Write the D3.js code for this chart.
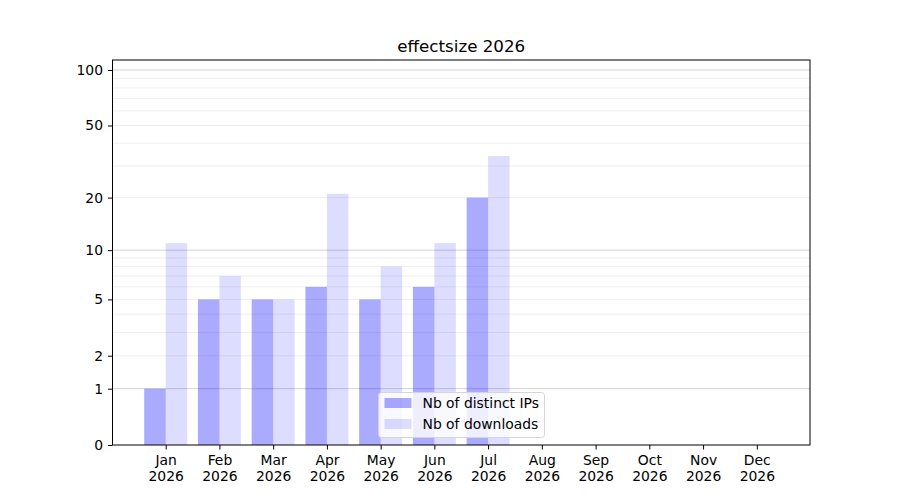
<!DOCTYPE html>
<html>
<head>
<meta charset="UTF-8">
<title>effectsize 2026</title>
<script src="https://d3js.org/d3.v7.min.js"></script>
<style>
	body { margin: 0; background: #fff; }
	svg text { font-family: "DejaVu Sans", sans-serif; fill: #000; }
</style>
</head>
<body>
	<svg id="chart"></svg>
	<script type="text/javascript">
		var months = ["Jan", "Feb", "Mar", "Apr", "May", "Jun", "Jul", "Aug", "Sep", "Oct", "Nov", "Dec"];
		var year = "2026";
		var distinctIPs = [1, 5, 5, 6, 5, 6, 20, 0, 0, 0, 0, 0];
		var downloads = [11, 7, 5, 21, 8, 11, 34, 0, 0, 0, 0, 0];
		var yTicks = [0, 1, 2, 5, 10, 20, 50, 100];
		var majorGrid = [1, 10, 100];
		var minorGrid = [2, 3, 4, 5, 6, 7, 8, 9, 20, 30, 40, 50, 60, 70, 80, 90];
		var seriesNames = ["Nb of distinct IPs", "Nb of downloads"];

		(function()
		{
			var width = 900, height = 500;
			var plotLeft = 112.5, plotRight = 810, plotTop = 60, plotBottom = 445;
			var barW = 0.4;
			var fontSize = '13.9px';

			var svg = d3.select('#chart')
				.attr('width', width)
				.attr('height', height);

			// x is month index, matplotlib style margins
			var x = d3.scaleLinear().domain([-0.99, 11.99]).range([plotLeft, plotRight]);
			// log(1+v) scale
			var y = d3.scaleSymlog().constant(1).domain([0, 113.2]).range([plotBottom, plotTop]);

			// grid
			svg.append('g').selectAll('line')
				.data(minorGrid).enter()
				.append('line')
				.attr('x1', plotLeft).attr('x2', plotRight)
				.attr('y1', function(d) { return y(d); })
				.attr('y2', function(d) { return y(d); })
				.attr('stroke', '#ebebeb').attr('stroke-width', 0.8);

			svg.append('g').selectAll('line')
				.data(majorGrid).enter()
				.append('line')
				.attr('x1', plotLeft).attr('x2', plotRight)
				.attr('y1', function(d) { return y(d); })
				.attr('y2', function(d) { return y(d); })
				.attr('stroke', '#c8c8c8').attr('stroke-width', 0.8);

			// bars
			var bars = svg.append('g');
			bars.selectAll('rect.ip')
				.data(distinctIPs).enter()
				.append('rect')
				.attr('class', 'ip')
				.attr('x', function(d, i) { return x(i - barW); })
				.attr('width', x(barW) - x(0))
				.attr('y', function(d) { return y(d); })
				.attr('height', function(d) { return plotBottom - y(d); })
				.attr('fill', '#0000ff').attr('fill-opacity', 0.333);

			bars.selectAll('rect.dl')
				.data(downloads).enter()
				.append('rect')
				.attr('class', 'dl')
				.attr('x', function(d, i) { return x(i); })
				.attr('width', x(barW) - x(0))
				.attr('y', function(d) { return y(d); })
				.attr('height', function(d) { return plotBottom - y(d); })
				.attr('fill', '#0000ff').attr('fill-opacity', 0.133);

			// frame
			svg.append('rect')
				.attr('x', plotLeft).attr('y', plotTop)
				.attr('width', plotRight - plotLeft).attr('height', plotBottom - plotTop)
				.attr('fill', 'none').attr('stroke', '#000').attr('stroke-width', 1);

			// y axis
			var yAxis = d3.axisLeft(y).tickValues(yTicks).tickFormat(d3.format('d')).tickSize(4.5).tickPadding(5);
			svg.append('g')
				.attr('transform', 'translate(' + plotLeft + ',0)')
				.call(yAxis)
				.call(function(g) { g.select('.domain').remove(); })
				.attr('font-family', null)
				.attr('font-size', null)
				.selectAll('text').style('font-size', fontSize);

			// x axis, two line labels
			var xAxis = d3.axisBottom(x).tickValues(d3.range(months.length)).tickSize(4.5).tickFormat('');
			var xg = svg.append('g')
				.attr('transform', 'translate(0,' + plotBottom + ')')
				.call(xAxis)
				.call(function(g) { g.select('.domain').remove(); })
				.attr('font-family', null);
			xg.selectAll('.tick').append('text')
				.attr('text-anchor', 'middle')
				.style('font-size', fontSize)
				.selectAll('tspan')
				.data(function(d) { return [months[d], year]; })
				.enter().append('tspan')
				.attr('x', 0)
				.attr('y', function(d, i) { return 20 + i * 15.5; })
				.text(function(d) { return d; });

			// title
			svg.append('text')
				.attr('x', (plotLeft + plotRight) / 2)
				.attr('y', 52)
				.attr('text-anchor', 'middle')
				.style('font-size', '16.7px')
				.text('effectsize 2026');

			// legend
			var legend = svg.append('g').attr('transform', 'translate(378.5,392.5)');
			legend.append('rect')
				.attr('width', 166).attr('height', 45).attr('rx', 3)
				.attr('fill', '#fff').attr('fill-opacity', 0.8)
				.attr('stroke', '#d5d5d5');
			var items = legend.selectAll('g.item')
				.data(seriesNames).enter()
				.append('g')
				.attr('class', 'item')
				.attr('transform', function(d, i) { return 'translate(6,' + (5.5 + i * 21) + ')'; });
			items.append('rect')
				.attr('width', 27).attr('height', 10)
				.attr('fill', '#0000ff')
				.attr('fill-opacity', function(d, i) { return i == 0 ? 0.333 : 0.133; });
			items.append('text')
				.attr('x', 38).attr('y', 10)
				.style('font-size', fontSize)
				.text(function(d) { return d; });
		})();
	</script>
</body>
</html>
